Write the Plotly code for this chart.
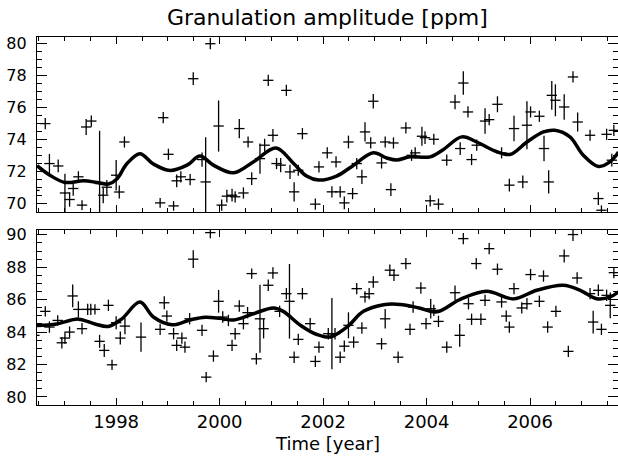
import plotly.graph_objects as go

# ---------------- data: top panel ----------------
top_t = [1996.42, 1996.63, 1996.71, 1996.88, 1997.01, 1997.10, 1997.17, 1997.27, 1997.34, 1997.42,
         1997.52, 1997.68, 1997.75, 1997.82, 1998.00, 1998.06, 1998.16, 1998.85, 1998.91, 1999.01,
         1999.11, 1999.17, 1999.25, 1999.43, 1999.49, 1999.66, 1999.73, 1999.82, 1999.98, 2000.04,
         2000.14, 2000.24, 2000.30, 2000.46, 2000.38, 2000.55, 2000.62, 2000.78, 2000.87, 2000.94,
         2001.03, 2001.10, 2001.18, 2001.29, 2001.36, 2001.44, 2001.52, 2001.60, 2001.85, 2001.92,
         2002.08, 2002.17, 2002.25, 2002.33, 2002.41, 2002.49, 2002.57, 2002.65, 2002.75, 2002.81,
         2002.92, 2002.97, 2003.13, 2003.20, 2003.31, 2003.36, 2003.60, 2003.71, 2003.78, 2003.91,
         2003.97, 2004.14, 2004.07, 2004.23, 2004.39, 2004.55, 2004.65, 2004.71, 2004.80, 2004.87,
         2004.97, 2005.13, 2005.21, 2005.37, 2005.45, 2005.60, 2005.69, 2005.86, 2005.94, 2006.01,
         2006.18, 2006.27, 2006.36, 2006.42, 2006.49, 2006.66, 2006.83, 2006.92, 2007.16, 2007.32,
         2007.38, 2007.48, 2007.62, 2007.58]
top_amp = [70.80, 74.98, 72.48, 72.33, 70.64, 70.23, 70.92, 71.65, 69.88, 74.77,
           75.14, 71.23, 70.50, 71.00, 71.75, 70.70, 73.83, 70.02, 75.35, 73.06,
           69.83, 71.40, 71.65, 71.48, 77.79, 72.73, 71.33, 79.98, 74.83, 69.88,
           70.44, 70.50, 70.40, 70.64, 74.67, 73.83, 71.54, 72.79, 73.63, 77.69,
           74.25, 72.48, 72.38, 77.06, 71.96, 70.71, 72.06, 74.35, 69.94, 72.27,
           73.15, 70.71, 72.58, 70.71, 70.02, 73.83, 70.60, 72.48, 71.65, 74.46,
           73.77, 76.38, 72.52, 73.83, 70.85, 73.77, 74.71, 73.00, 73.15, 74.19,
           74.10, 74.00, 70.15, 69.94, 72.69, 76.33, 73.42, 77.52, 75.71, 72.73,
           73.63, 75.14, 75.23, 76.19, 73.15, 71.13, 74.67, 71.33, 74.88, 75.71,
           75.44, 73.42, 71.33, 76.75, 76.44, 76.02, 77.90, 75.08, 74.25, 70.29,
           69.56, 74.31, 74.56, 72.69]
top_err = [0.30, 0.35, 0.60, 0.40, 1.20, 0.45, 0.45, 0.35, 0.30, 0.50,
           0.35, 3.30, 0.50, 0.45, 0.95, 0.40, 0.35, 0.30, 0.35, 0.35,
           0.30, 0.40, 0.35, 0.35, 0.40, 0.45, 2.80, 0.35, 1.60, 0.35,
           0.40, 0.40, 0.35, 0.35, 0.60, 0.35, 0.40, 0.95, 0.40, 0.35,
           0.40, 0.35, 0.45, 0.35, 0.45, 0.60, 0.35, 0.35, 0.35, 0.35,
           0.35, 0.35, 0.35, 0.35, 0.40, 0.40, 0.35, 0.35, 0.45, 0.60,
           0.35, 0.45, 0.35, 0.35, 0.40, 0.35, 0.35, 0.35, 0.35, 0.60,
           0.40, 0.35, 0.35, 0.35, 0.35, 0.45, 0.40, 0.73, 0.35, 0.35,
           0.35, 0.80, 0.35, 0.50, 0.35, 0.40, 0.80, 0.40, 1.50, 0.35,
           0.35, 0.80, 0.73, 0.90, 1.00, 0.80, 0.35, 0.60, 0.35, 0.40,
           0.30, 0.35, 0.35, 0.40]

top_fit_t = [1996.47, 1996.72, 1997.01, 1997.37, 1997.63, 1997.85, 1998.01, 1998.21, 1998.46, 1998.72,
             1999.04, 1999.37, 1999.62, 1999.88, 2000.27, 2000.65, 2001.09, 2001.43, 2001.68, 2001.91,
             2002.26, 2002.59, 2002.97, 2003.23, 2003.42, 2003.68, 2004.07, 2004.32, 2004.68, 2004.97,
             2005.29, 2005.61, 2005.94, 2006.26, 2006.48, 2006.77, 2007.03, 2007.32, 2007.55, 2007.71]
top_fit = [72.35, 71.75, 71.30, 71.40, 71.30, 71.20, 71.50, 72.48, 73.10, 72.45,
           72.05, 72.38, 72.95, 72.38, 71.90, 72.58, 73.45, 72.48, 71.70, 71.45,
           71.70, 72.38, 73.15, 72.83, 72.70, 72.90, 72.90, 73.35, 74.15, 73.83,
           73.31, 73.05, 73.83, 74.46, 74.56, 74.15, 73.00, 72.30, 72.60, 73.20]

# ---------------- data: bottom panel ----------------
bot_t = [1996.42, 1996.63, 1996.71, 1996.87, 1996.95, 1997.01, 1997.10, 1997.16, 1997.27, 1997.34,
         1997.45, 1997.51, 1997.59, 1997.68, 1997.77, 1997.85, 1997.92, 1998.00, 1998.08, 1998.17,
         1998.48, 1998.85, 1998.93, 1998.98, 1999.11, 1999.17, 1999.27, 1999.33, 1999.42, 1999.49,
         1999.66, 1999.74, 1999.82, 1999.88, 1999.98, 2000.06, 2000.17, 2000.24, 2000.30, 2000.38,
         2000.46, 2000.54, 2000.62, 2000.71, 2000.78, 2000.85, 2000.94, 2001.03, 2001.16, 2001.29,
         2001.35, 2001.44, 2001.52, 2001.60, 2001.75, 2001.85, 2001.92, 2002.10, 2002.17, 2002.23,
         2002.33, 2002.41, 2002.49, 2002.59, 2002.65, 2002.75, 2002.81, 2002.89, 2002.97, 2003.13,
         2003.20, 2003.29, 2003.37, 2003.45, 2003.60, 2003.68, 2003.74, 2003.89, 2003.99, 2004.08,
         2004.14, 2004.23, 2004.39, 2004.55, 2004.64, 2004.71, 2004.81, 2004.87, 2004.96, 2005.05,
         2005.13, 2005.21, 2005.37, 2005.45, 2005.54, 2005.60, 2005.69, 2005.84, 2005.94, 2006.01,
         2006.18, 2006.26, 2006.34, 2006.50, 2006.66, 2006.74, 2006.83, 2006.91, 2007.16, 2007.22,
         2007.32, 2007.38, 2007.48, 2007.55, 2007.62]
bot_amp = [83.80, 85.28, 84.31, 84.72, 83.34, 83.63, 84.00, 86.23, 85.40, 84.21,
           85.40, 85.40, 85.40, 83.43, 82.87, 85.65, 81.98, 84.58, 83.63, 84.37,
           83.69, 84.17, 85.81, 84.99, 83.90, 83.18, 83.63, 83.07, 84.82, 88.50,
           84.11, 81.22, 90.14, 82.52, 85.90, 84.93, 84.72, 83.18, 83.90, 85.61,
           84.52, 85.20, 87.61, 82.35, 84.82, 84.21, 86.89, 87.65, 85.28, 86.37,
           85.90, 82.45, 83.55, 86.37, 84.52, 82.19, 83.07, 83.90, 83.90, 83.90,
           82.45, 83.13, 84.42, 83.38, 86.68, 84.25, 86.17, 86.37, 87.09, 83.28,
           84.82, 87.82, 87.51, 82.45, 88.23, 84.17, 85.55, 86.72, 84.52, 85.44,
           85.34, 84.66, 83.07, 86.43, 83.80, 89.77, 85.75, 84.79, 88.23, 84.79,
           85.96, 89.15, 87.88, 85.86, 84.99, 84.31, 86.68, 85.49, 85.75, 87.55,
           85.90, 87.46, 84.31, 85.28, 88.70, 82.81, 90.02, 87.34, 86.37, 84.62,
           86.58, 84.17, 86.27, 85.65, 87.67]
bot_err = [0.32, 0.32, 0.35, 0.32, 0.35, 0.35, 0.35, 0.70, 0.50, 0.35,
           0.35, 0.35, 0.32, 0.40, 0.40, 0.35, 0.32, 0.40, 0.40, 0.50,
           0.90, 0.35, 0.40, 0.35, 0.35, 0.35, 0.35, 0.35, 0.35, 0.55,
           0.35, 0.32, 0.35, 0.35, 0.70, 0.35, 0.35, 0.35, 0.35, 0.35,
           0.35, 0.35, 0.32, 0.35, 2.10, 0.60, 0.35, 0.35, 0.35, 0.35,
           2.30, 0.35, 0.35, 0.35, 0.35, 0.35, 0.35, 0.35, 2.20, 0.35,
           0.35, 0.35, 0.80, 0.35, 0.35, 0.35, 0.35, 0.35, 0.35, 0.35,
           0.60, 0.35, 0.35, 0.35, 0.35, 0.35, 0.35, 0.35, 0.35, 0.60,
           0.35, 0.35, 0.35, 0.45, 0.70, 0.35, 0.35, 0.35, 0.35, 0.35,
           0.35, 0.35, 0.35, 0.35, 0.35, 0.35, 0.35, 0.35, 0.35, 0.35,
           0.35, 0.35, 0.35, 0.35, 0.40, 0.35, 0.40, 0.35, 0.35, 0.70,
           0.35, 0.35, 0.35, 0.80, 0.35]

bot_fit_t = [1996.47, 1996.85, 1997.27, 1997.59, 1997.85, 1998.11, 1998.46, 1998.72, 1999.08, 1999.43,
             1999.72, 2000.01, 2000.27, 2000.65, 2001.04, 2001.23, 2001.56, 2001.88, 2002.14, 2002.46,
             2002.78, 2003.17, 2003.49, 2003.86, 2004.20, 2004.65, 2005.16, 2005.68, 2006.13, 2006.64,
             2006.97, 2007.29, 2007.55, 2007.71]
bot_fit = [84.40, 84.50, 84.80, 84.50, 84.35, 84.82, 85.85, 84.93, 84.45, 84.75,
           84.92, 84.85, 84.75, 85.13, 85.49, 85.28, 84.42, 83.85, 83.70, 84.31,
           85.28, 85.69, 85.71, 85.49, 85.25, 86.02, 86.52, 86.05, 86.58, 86.89,
           86.58, 86.06, 86.17, 86.49]

T_ERR = 0.1  # horizontal half-width of the crosses (years)

x_ticks = [1998, 2000, 2002, 2004, 2006]
top_ticks = [70, 72, 74, 76, 78, 80]
bot_ticks = [80, 82, 84, 86, 88, 90]

FONT = "DejaVu Sans"

fig = go.Figure()


def add_points(t, amp, err, xa, ya):
    fig.add_trace(go.Scatter(
        x=t, y=amp, mode="markers", xaxis=xa, yaxis=ya,
        marker=dict(size=1, color="black"),
        error_x=dict(type="constant", value=T_ERR, width=0, thickness=1.3, color="black"),
        error_y=dict(type="data", array=err, width=0, thickness=1.3, color="black"),
        showlegend=False, hoverinfo="skip"))


def add_fit(t, f, xa, ya):
    fig.add_trace(go.Scatter(
        x=t, y=f, mode="lines", xaxis=xa, yaxis=ya,
        line=dict(color="black", width=3.5, shape="spline", smoothing=1.0),
        showlegend=False, hoverinfo="skip"))


add_points(top_t, top_amp, top_err, "x", "y")
add_fit(top_fit_t, top_fit, "x", "y")
add_points(bot_t, bot_amp, bot_err, "x2", "y2")
add_fit(bot_fit_t, bot_fit, "x2", "y2")

xr = [1996.47, 2007.70]

common_x = dict(range=xr, showgrid=False, zeroline=False, showline=True, linecolor="black",
                linewidth=1.2, mirror="allticks", ticks="inside", ticklen=7, tickcolor="black",
                tickvals=x_ticks, tickfont=dict(family=FONT, size=18, color="black"),
                minor=dict(dtick=0.5, tick0=1996, ticks="inside", ticklen=4, tickcolor="black"))
common_y = dict(showgrid=False, zeroline=False, showline=True, linecolor="black",
                linewidth=1.2, mirror="allticks", ticks="inside", ticklen=10, tickcolor="black",
                tickfont=dict(family=FONT, size=16, color="black"), ticklabelstandoff=6,
                minor=dict(dtick=0.5, ticks="inside", ticklen=5, tickcolor="black"))

fig.update_layout(
    width=618, height=460,
    margin=dict(l=37, r=0, t=37, b=55),
    paper_bgcolor="white", plot_bgcolor="white",
    xaxis=dict(common_x, anchor="y", showticklabels=False),
    yaxis=dict(common_y, domain=[0.5245, 1.0], range=[69.45, 80.4], tickvals=top_ticks, anchor="x"),
    xaxis2=dict(common_x, anchor="y2", showticklabels=True),
    yaxis2=dict(common_y, domain=[0.0, 0.4755], range=[79.5, 90.3], tickvals=bot_ticks, anchor="x2"),
    annotations=[
        dict(text="Granulation amplitude [ppm]", xref="paper", yref="paper", x=0.5, y=1.054,
             xanchor="center", yanchor="middle", showarrow=False,
             font=dict(family=FONT, size=22, color="black")),
        dict(text="Time [year]", xref="paper", yref="paper", x=0.5, y=-0.104,
             xanchor="center", yanchor="middle", showarrow=False,
             font=dict(family=FONT, size=18, color="black")),
    ],
)

fig.write_html("out.html")
